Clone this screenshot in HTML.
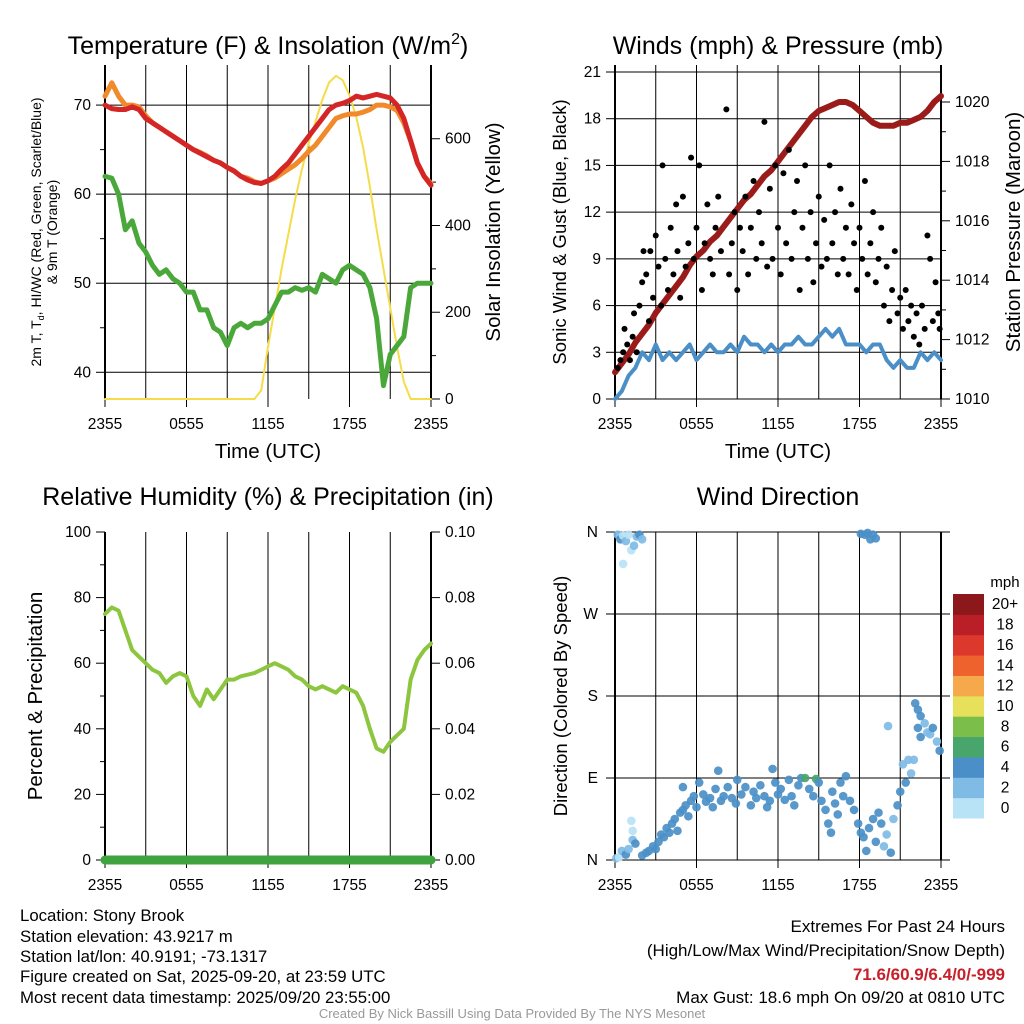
<!DOCTYPE html>
<html><head><meta charset="utf-8"><style>
html,body{margin:0;padding:0;background:#fff;}
svg{display:block;font-family:"Liberation Sans",sans-serif;}
</style></head><body>
<svg id="fig" width="1024" height="1024" viewBox="0 0 1024 1024" xmlns="http://www.w3.org/2000/svg">
<g id="static">
<text x="268" y="54" font-size="25" text-anchor="middle">Temperature (F) &amp; Insolation (W/m<tspan dy="-10" font-size="16">2</tspan><tspan dy="10">)</tspan></text>
<text x="778" y="54" font-size="25" text-anchor="middle">Winds (mph) &amp; Pressure (mb)</text>
<text x="268" y="505" font-size="25" text-anchor="middle">Relative Humidity (%) &amp; Precipitation (in)</text>
<text x="778" y="505" font-size="25" text-anchor="middle">Wind Direction</text>
<text x="268" y="458" font-size="20.5" text-anchor="middle">Time (UTC)</text>
<text x="778" y="458" font-size="20.5" text-anchor="middle">Time (UTC)</text>
<g font-size="14" text-anchor="middle">
<text transform="translate(41,232) rotate(-90)">2m T, T<tspan font-size="9" dy="3">d</tspan><tspan dy="-3">, HI/WC (Red, Green, Scarlet/Blue)</tspan></text>
<text transform="translate(57,232) rotate(-90)">&amp; 9m T (Orange)</text>
</g>
<text transform="translate(500,232) rotate(-90)" font-size="20.5" text-anchor="middle">Solar Insolation (Yellow)</text>
<text transform="translate(566,232) rotate(-90)" font-size="18.5" text-anchor="middle">Sonic Wind &amp; Gust (Blue, Black)</text>
<text transform="translate(1020,232) rotate(-90)" font-size="20.5" text-anchor="middle">Station Pressure (Maroon)</text>
<text transform="translate(42,696) rotate(-90)" font-size="20.5" text-anchor="middle">Percent &amp; Precipitation</text>
<text transform="translate(567,696) rotate(-90)" font-size="18.5" text-anchor="middle">Direction (Colored By Speed)</text>
<g font-size="16.8">
<text x="20" y="921">Location: Stony Brook</text>
<text x="20" y="942">Station elevation: 43.9217 m</text>
<text x="20" y="962">Station lat/lon: 40.9191; -73.1317</text>
<text x="20" y="982">Figure created on Sat, 2025-09-20, at 23:59 UTC</text>
<text x="20" y="1003">Most recent data timestamp: 2025/09/20 23:55:00</text>
</g>
<g font-size="17" text-anchor="end">
<text x="1005" y="932">Extremes For Past 24 Hours</text>
<text x="1005" y="956">(High/Low/Max Wind/Precipitation/Snow Depth)</text>
<text x="1005" y="980" fill="#c8202a" font-weight="bold">71.6/60.9/6.4/0/-999</text>
<text x="1005" y="1003">Max Gust: 18.6 mph On 09/20 at 0810 UTC</text>
</g>
<text x="512" y="1018" font-size="13" fill="#999" text-anchor="middle">Created By Nick Bassill Using Data Provided By The NYS Mesonet</text>
<text x="1005" y="587" font-size="15" text-anchor="middle">mph</text>
</g>
<g id="dyn"></g>
</svg>
<script>
// half-hourly series (49 values, 2355 -> 2355)
const tempRed=[70,69.6,69.5,69.5,69.8,69.5,68.5,68,67.5,67,66.5,66,65.5,65,64.6,64.2,63.8,63.5,63,62.6,62,61.6,61.3,61.2,61.5,62,62.8,63.5,64.5,65.5,66.5,67.5,68.5,69.5,70,70.2,70.5,71,70.8,71,71.2,71,70.8,70,68.5,66,63.5,62,61];
const temp9m=[71,72.5,71,70,70,69.8,68.8,68,67.5,67,66.5,66,65.5,65,64.7,64.3,63.8,63.5,63,62.6,62,61.8,61.4,61.2,61.5,61.8,62.3,62.8,63.3,64,64.8,65.5,66.5,67.5,68.5,68.8,69,69,69.2,69.5,70,70,69.8,69.4,68,66,63.5,62,61.2];
const dewpoint=[62,61.8,60,56,57,54.5,53.5,52,51,51.5,50.5,50,49,49,47,47,45,44.5,43,45,45.5,45,45.5,45.5,46,47.5,49,49,49.5,49.2,49.5,49,51,50.5,50,51.5,52,51.5,51,49.5,46,38.5,42,43,44,49.5,50,50,50];
const solar=[0,0,0,0,0,0,0,0,0,0,0,0,0,0,0,0,0,0,0,0,0,0,0,20,120,210,300,380,460,530,590,640,690,730,745,735,700,650,580,490,390,300,210,120,40,0,0,0,0];
const sonicWind=[0,0.5,1.5,2,3,2.5,3.5,2.5,3,2.5,3,3.5,2.5,3,3.5,3,3,3.5,3,4,3.5,3.5,3,3.5,3,3.5,3.5,4,3.5,3.5,4,4.5,4,4.5,3.5,3.5,3.5,3,3.5,3.5,2.5,2,2.5,2,2,3,2.5,3,2.5];
const pressure=[1010.9,1011.2,1011.5,1011.9,1012.2,1012.5,1012.9,1013.2,1013.5,1013.8,1014.1,1014.5,1014.8,1015.0,1015.3,1015.5,1015.8,1016.1,1016.4,1016.7,1016.9,1017.2,1017.5,1017.7,1018.0,1018.3,1018.6,1018.9,1019.2,1019.5,1019.7,1019.8,1019.9,1020.0,1020.0,1019.9,1019.7,1019.5,1019.3,1019.2,1019.2,1019.2,1019.3,1019.3,1019.4,1019.5,1019.7,1020.0,1020.2];
const humidity=[75,77,76,70,64,62,60,58,57,54,56,57,56,50,47,52,49,52,55,55,56,56.5,57,58,59,60,59,58,56,55,53,52,53,52,51,53,52,51,47,40,34,33,36,38,40,55,61,64,66];
const precip=[0,0,0,0,0,0,0,0,0,0,0,0,0,0,0,0,0,0,0,0,0,0,0,0,0,0,0,0,0,0,0,0,0,0,0,0,0,0,0,0,0,0,0,0,0,0,0,0,0];
// gusts: hours since 2355, mph
const gustHours=[0.2,0.4,0.6,0.7,0.9,1.1,1.3,1.4,1.6,1.8,2,2.1,2.3,2.5,2.6,2.8,3,3.2,3.4,3.5,3.7,3.9,4.1,4.3,4.5,4.6,4.8,5,5.2,5.4,5.6,5.8,6,6.2,6.4,6.6,6.8,7,7.2,7.4,7.6,7.8,8.2,8.4,8.6,8.8,9,9.2,9.4,9.6,9.8,10,10.2,10.4,10.6,10.8,11,11.2,11.4,11.6,11.8,12,12.2,12.4,12.6,12.8,13,13.2,13.4,13.6,13.8,14,14.2,14.4,14.6,14.8,15,15.2,15.4,15.6,15.8,16,16.2,16.4,16.6,16.8,17,17.2,17.4,17.6,17.8,18,18.2,18.4,18.6,18.8,19,19.2,19.4,19.6,19.8,20,20.2,20.4,20.6,20.8,21,21.2,21.4,21.6,21.8,22,22.2,22.4,22.6,22.8,23,23.2,23.4,23.6,23.8,23.9];
const gustMph=[2,2.5,3,4.5,3.5,2.5,4,5.5,3,6,7.5,9.5,8,5,9.5,6.5,10.5,8.5,6,15,9,7,11,8,12.5,9.5,6.5,13,8.5,10,15.5,9,11,15,7,10,12.5,9,8,11,13,9.5,18.6,8,10,12,7,11,9.5,13,8,11,14,9,12,10,17.8,8.5,13.5,9,15,11,8,14.5,10,16,9,12,14,7,11,15,9,12,7.5,10,13,8.5,11.5,9,15,10,12,8,13.5,9,11,8,12.5,10,7,11,9,14,8,10,12,7.5,9,11,6,8.5,5,7,9.5,5.5,6.5,4.5,7,5,6,4,5.5,3.5,6,4.5,10.5,9,5,7.5,5.5,4.5];
// wind direction: hours, degrees, speed (mph)
const dirHours=[0.1,0.3,0.5,0.8,1,1.3,1.5,1.2,1.3,0.2,0.4,0.6,0.8,1,1.2,1.4,1.6,1.8,2,0.6,2,2.3,2.5,2.8,3,3.2,3.4,3.6,3.8,4,4.2,4.4,4.6,4.8,5,5,5.2,5.4,5.6,5.8,6,6.2,6.5,6.7,7,7.2,7.4,7.6,7.8,8,8.3,8.6,8.9,9,9.3,9.6,10,10.2,10.4,10.7,11,11.2,11.4,11.6,11.8,12,12.2,12.5,12.8,13,13.2,13.5,13.7,14,14.3,14.6,14.8,15,15.2,15.5,15.7,15.9,16,16.2,16.4,16.6,16.8,17,17.3,17.6,17.9,18.1,18.3,18.5,18.7,19,19.2,19.4,19.6,19.8,20,20.3,20.5,20.8,21,21.2,21.4,21.6,21.8,22,22.3,22.5,22.8,23,23.2,23.4,23.7,23.9,18.1,18.4,18.6,18.8,19,19.2,22.1,22.3,22.5,20.1];
const dirDeg=[2,3,10,6,12,22,18,43,32,357,352,356,350,357,340,345,355,357,352,325,5,8,10,15,12,20,28,25,35,30,40,45,32,52,55,80,60,48,65,70,58,85,72,64,68,58,78,98,65,70,80,68,62,88,72,80,60,75,68,82,70,58,65,100,85,72,78,66,88,70,60,82,90,90,78,70,89,85,65,55,40,30,75,62,50,85,70,92,65,55,40,30,25,10,35,45,20,52,40,15,28,8,45,60,75,105,85,110,95,110,145,135,150,140,138,145,130,120,358,357,359,352,357,353,172,165,158,147];
const dirSpeed=[1,0,1,3,1,1,3,0,0,1,3,0,1,0,0,1,2,3,1,0,3,4,3,4,3,4,3,4,4,3,3,4,4,3,3,3,4,3,3,3,4,3,3,3,3,3,4,3,3,4,3,3,3,3,3,4,3,3,4,3,4,3,3,3,3,4,4,4,3,4,4,4,4,6,4,4,6,4,4,3,4,4,4,4,3,3,3,4,4,3,3,4,3,4,3,4,3,3,3,2,2,3,2,3,3,2,3,2,1,2,3,3,2,2,1,3,2,3,4,4,3,4,3,4,4,4,3,2];
const speedLevels=["0","2","4","6","8","10","12","14","16","18","20+"];
const speedColors=["#b8e2f6","#7fbbe5","#4a8fc7","#48a56c","#7bbf4a","#e6e05a","#f5a94a","#ee622e","#dc382b","#ba1e27","#8c181b"];

const NS="http://www.w3.org/2000/svg";
const dyn=document.getElementById('dyn');
function mk(tag,attrs,parent){const e=document.createElementNS(NS,tag);for(const k in attrs)e.setAttribute(k,attrs[k]);(parent||dyn).appendChild(e);return e;}
function lin(d0,d1,r0,r1){return v=>r0+(v-d0)*(r1-r0)/(d1-d0);}
const xL=lin(0,48,105,431), xR=lin(0,48,615,941);
const xLh=lin(0,24,105,431), xRh=lin(0,24,615,941);
const yTemp=lin(37,74.5,399,65), ySolar=lin(0,770,399,65);
const yWind=lin(0,21,399,72), yPres=lin(1010,1020,399,102);
const yRH=lin(0,100,860,532), yPr=lin(0,0.1,860,532), yDir=lin(0,360,860,532);
const xtl=["2355","0555","1155","1755","2355"];
const FS=15.5;

function frame(x0,x1,y0,y1,name){
  const g=mk('g',{});
  
  
  for(let i=0;i<=8;i++){const x=x0+(x1-x0)*i/8;mk('line',{x1:x,x2:x,y1:y0,y2:y1+(i%2==0?8:0),stroke:'#000','stroke-width':1},g);}
  xtl.forEach((t,i)=>{const x=x0+(x1-x0)*i/4;const tx=mk('text',{x:x,y:y1+30,'font-size':FS,'text-anchor':'middle'},g);tx.textContent=t;});
  mk('line',{x1:x0,x2:x0,y1:y0,y2:y1,stroke:'#000','stroke-width':2},g);
  mk('line',{x1:x1,x2:x1,y1:y0,y2:y1,stroke:'#000','stroke-width':2},g);
  return g;
}
function tick(g,x,y,side,len,label){
  mk('line',{x1:x,x2:side=='l'?x-len:x+len,y1:y,y2:y,stroke:'#000','stroke-width':1},g);
  if(label!==null){const t=mk('text',{x:side=='l'?x-len-5:x+len+5,y:y+5,'font-size':FS,'text-anchor':side=='l'?'end':'start'},g);t.textContent=label;}
}
function line(arr,xf,yf,color,w,name){
  const p=mk('polyline',{points:arr.map((v,i)=>xf(i)+','+yf(v)).join(' '),fill:'none',stroke:color,'stroke-width':w,'stroke-linejoin':'round','stroke-linecap':'round'});
  
  
}

// Panel 1
let g=frame(105,431,65,399,'temp-axes');
[40,50,60,70].forEach(v=>mk('line',{x1:105,x2:431,y1:yTemp(v),y2:yTemp(v),stroke:'#000','stroke-width':1},g));
for(let v=40;v<=70;v+=5)tick(g,105,yTemp(v),'l',v%10==0?9:5,v%10==0?String(v):null);
for(let v=0;v<=600;v+=100)tick(g,431,ySolar(v),'r',v%200==0?9:5,v%200==0?String(v):null);
line(solar,xL,ySolar,'#f5dc4a',2,'solar-line');
line(dewpoint,xL,yTemp,'#4aa83a',5,'dewpoint-line');
line(temp9m,xL,yTemp,'#f08a2a',5,'temp-9m-line');
line(tempRed,xL,yTemp,'#d42626',5,'temp-2m-line');

// Panel 2
g=frame(615,941,65,399,'wind-axes');
for(let v=0;v<=21;v+=3){mk('line',{x1:615,x2:941,y1:yWind(v),y2:yWind(v),stroke:'#000','stroke-width':1},g);tick(g,615,yWind(v),'l',9,String(v));}
for(let v=1010;v<=1020;v+=1)tick(g,941,yPres(v),'r',v%2==0?9:5,v%2==0?String(v):null);
line(sonicWind,xR,yWind,'#4a8fc7',4,'sonic-wind-line');
line(pressure,xR,yPres,'#9b1b1b',6,'pressure-line');
gustHours.forEach((h,i)=>{const c=mk('circle',{cx:xRh(h),cy:yWind(gustMph[i]),r:3,fill:'#000'});

});

// Panel 3
g=frame(105,431,532,860,'rh-axes');
for(let v=0;v<=100;v+=20)tick(g,105,yRH(v),'l',9,String(v));
for(let v=0;v<=100;v+=10)if(v%20)tick(g,105,yRH(v),'l',5,null);
for(let v=0;v<=0.1001;v+=0.02)tick(g,431,yPr(v),'r',9,v.toFixed(2));
line(humidity,xL,yRH,'#8cc63f',4,'humidity-line');
line(precip,xL,yPr,'#3fa33f',9,'precip-line');

// Panel 4
g=frame(615,941,532,860,'direction-axes');
const dl=['N','E','S','W','N'];
dl.forEach((t,i)=>{const y=yDir(i*90);mk('line',{x1:606,x2:950,y1:y,y2:y,stroke:'#000','stroke-width':1},g);const tx=mk('text',{x:598,y:y+5,'font-size':FS,'text-anchor':'end'},g);tx.textContent=t;});
dirHours.forEach((h,i)=>{const lvl=Math.min(10,Math.round(dirSpeed[i]/2));const c=mk('circle',{cx:xRh(h),cy:yDir(dirDeg[i]),r:4.3,fill:speedColors[lvl],'fill-opacity':0.92});

});
// colorbar
const cb=mk('g',{});


const cbTop=594,cbH=224/11;
speedLevels.forEach((l,i)=>{const j=10-i;const y=cbTop+j*cbH;
  mk('rect',{x:953,y:y,width:31,height:cbH+0.5,fill:speedColors[i]},cb);
  const t=mk('text',{x:1005,y:y+cbH/2+5,'font-size':FS,'text-anchor':'middle'},cb);t.textContent=l;});
</script>
</body></html>
